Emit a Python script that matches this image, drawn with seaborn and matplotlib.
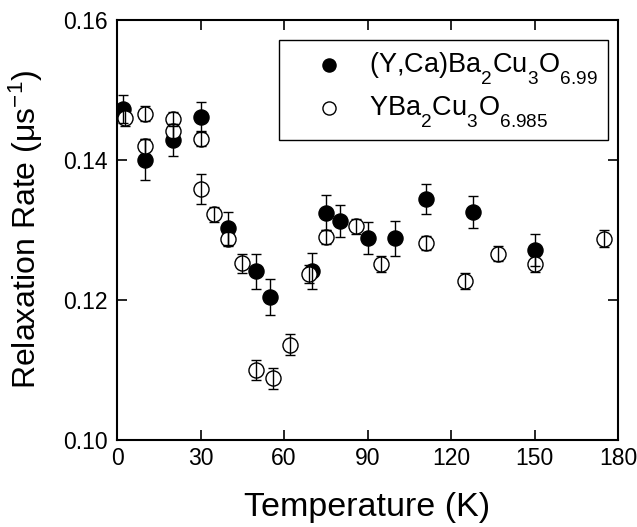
import numpy as np
import pandas as pd
import matplotlib
matplotlib.use("Agg")
import matplotlib.pyplot as plt
import matplotlib._mathtext as _mt
import seaborn as sns

# ---- data ----
temp_ca = [2, 10, 20, 30, 40, 50, 55, 70, 75, 80, 90, 100, 111, 128, 150]
rate_ca = [0.1473, 0.1400, 0.1428, 0.1461, 0.1302, 0.1241, 0.1204, 0.1241,
           0.1324, 0.1313, 0.1288, 0.1288, 0.1344, 0.1325, 0.1271]
err_ca = [0.0020, 0.0029, 0.0023, 0.0021, 0.0024, 0.0025, 0.0026, 0.0026,
          0.0025, 0.0023, 0.0023, 0.0025, 0.0022, 0.0023, 0.0023]

temp_y = [3, 10, 10, 20, 20, 30, 30, 35, 40, 45, 50, 56, 62, 69, 75, 86,
          95, 111, 125, 137, 150, 175]
rate_y = [0.1460, 0.1466, 0.1419, 0.1458, 0.1441, 0.1430, 0.1358, 0.1322,
          0.1287, 0.1252, 0.1100, 0.1088, 0.1136, 0.1237, 0.1290, 0.1305,
          0.1251, 0.1281, 0.1227, 0.1266, 0.1251, 0.1287]
err_y = [0.0012, 0.0011, 0.0011, 0.0010, 0.0010, 0.0011, 0.0021, 0.0011,
         0.0010, 0.0014, 0.0014, 0.0015, 0.0015, 0.0013, 0.0010, 0.0011,
         0.0011, 0.0010, 0.0011, 0.0011, 0.0011, 0.0012]

label_ca = r'(Y,Ca)Ba$_\mathregular{2}$Cu$_\mathregular{3}$O$_\mathregular{6.99}$'
label_y = r'YBa$_\mathregular{2}$Cu$_\mathregular{3}$O$_\mathregular{6.985}$'

x_ticks = [0, 30, 60, 90, 120, 150, 180]
y_ticks = [0.10, 0.12, 0.14, 0.16]

df_ca = pd.DataFrame({"T": temp_ca, "R": rate_ca, "E": err_ca})
df_y = pd.DataFrame({"T": temp_y, "R": rate_y, "E": err_y})

# deeper subscripts, as in the original
try:
    _mt.FontConstantsBase.sub1 = 0.8
except Exception:
    pass

sns.set_style("ticks")
plt.rcParams['font.family'] = ['Liberation Sans', 'DejaVu Sans']
plt.rcParams['mathtext.fontset'] = 'custom'
plt.rcParams['mathtext.rm'] = 'Liberation Sans'
plt.rcParams['mathtext.it'] = 'Liberation Sans:italic'
plt.rcParams['mathtext.bf'] = 'Liberation Sans:bold'
for k in ['text.color', 'axes.labelcolor', 'xtick.color', 'ytick.color', 'axes.edgecolor']:
    plt.rcParams[k] = 'black'

fig = plt.figure(figsize=(6.37, 5.27), dpi=100)
ax = fig.add_axes([117/637, 1-439.7/527, 501/637, 420/527])

ms = 118
sns.scatterplot(data=df_ca, x="T", y="R", ax=ax, marker='o', s=ms,
                color='black', edgecolor='black', linewidth=1.0,
                label=label_ca, zorder=2)
sns.scatterplot(data=df_y, x="T", y="R", ax=ax, marker='o', s=ms,
                facecolor='white', edgecolor='black', linewidth=1.0,
                label=label_y, zorder=2.5)

ax.errorbar(df_ca["T"], df_ca["R"], yerr=df_ca["E"], fmt='none',
            ecolor='black', elinewidth=1.0, capsize=3.8, capthick=1.0, zorder=3)
ax.errorbar(df_y["T"], df_y["R"], yerr=df_y["E"], fmt='none',
            ecolor='black', elinewidth=1.0, capsize=3.8, capthick=1.0, zorder=3)

ax.set_xlim(0, 180)
ax.set_ylim(0.10, 0.16)
ax.set_xticks(x_ticks)
ax.set_yticks(y_ticks)
ax.set_yticklabels([f"{v:.2f}" for v in y_ticks])
ax.tick_params(direction='in', length=7, width=1.2, top=True, right=True,
               labelsize=16.5, colors='black')
ax.tick_params(axis='x', pad=5)
ax.tick_params(axis='y', pad=7)
for sp in ax.spines.values():
    sp.set_linewidth(1.5)
    sp.set_color('black')

ax.set_xlabel('Temperature (K)', fontsize=24.5, labelpad=16)
ax.set_ylabel(r'Relaxation Rate ($\mathregular{\mu}$s$^\mathregular{-1}$)', fontsize=23, labelpad=13)

leg = ax.legend(loc='upper left', bbox_to_anchor=(0.3234, 0.9517), fontsize=19.5,
                frameon=True, fancybox=False, edgecolor='black', framealpha=1,
                handletextpad=0.0, borderpad=0.38, labelspacing=0.3,
                handlelength=2.95, borderaxespad=0, markerscale=0.87)
leg.get_frame().set_linewidth(1.0)

fig.savefig("out.png", dpi=100)
